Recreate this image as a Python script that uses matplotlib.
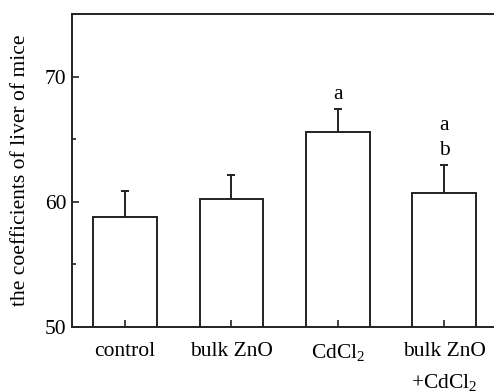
import matplotlib
matplotlib.use("Agg")
import matplotlib.pyplot as plt
import numpy as np

groups = ["control", "bulk ZnO", "CdCl$_2$", "bulk ZnO\n+CdCl$_2$"]
means = [58.8, 60.2, 65.6, 60.7]
errors = [2.1, 1.95, 1.8, 2.2]
letters = [[], [], ["a"], ["a", "b"]]

plt.rcParams["font.family"] = "Liberation Serif"
plt.rcParams["mathtext.fontset"] = "custom"
plt.rcParams["mathtext.rm"] = "Liberation Serif"
plt.rcParams["mathtext.it"] = "Liberation Serif:italic"

fs = 15.5
fig = plt.figure(figsize=(4.94, 3.92), dpi=100)
ax = fig.add_axes([72 / 494, 1 - 327 / 392, 1 - 72 / 494, (327 - 14) / 392])
ax.set_axisbelow(False)

x = np.arange(len(groups))
ax.bar(x, means, width=0.6, color="white", edgecolor="#222222", linewidth=1.4, zorder=2)
ax.errorbar(x, means, yerr=[np.zeros(len(errors)), errors], fmt="none",
            ecolor="#222222", elinewidth=1.4, capsize=3, capthick=1.4, zorder=1)

for xi, m, e, labs in zip(x, means, errors, letters):
    for k, lab in enumerate(labs[::-1]):
        ax.text(xi, m + e + 0.45 + k * 1.95, lab, ha="center", va="bottom", fontsize=fs)

ax.set_xlim(-0.5, 3.47)
ax.set_ylim(50, 75)
ax.set_yticks([50, 60, 70])
ax.set_yticks([55, 65], minor=True)
ax.set_xticks(x)
ax.set_xticklabels(groups, fontsize=fs, linespacing=1.65)
ax.tick_params(axis="y", labelsize=fs)
ax.tick_params(which="major", direction="in", length=5, width=1.2, pad=4, color="#222222")
ax.tick_params(which="minor", direction="in", length=3, width=1.2, color="#222222")
ax.tick_params(axis="x", pad=11)
ax.spines["right"].set_visible(False)
for s in ["left", "top", "bottom"]:
    ax.spines[s].set_linewidth(1.4)
    ax.spines[s].set_color("#222222")

ax.set_ylabel("the coefficients of liver of mice", fontsize=fs, labelpad=11)

fig.savefig("out.png", dpi=100)
